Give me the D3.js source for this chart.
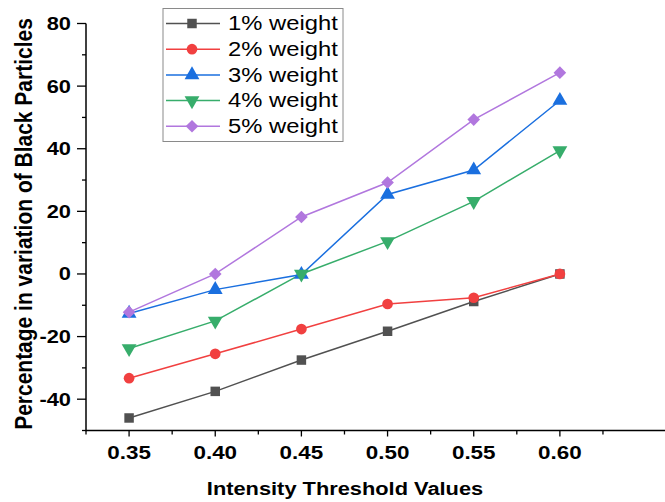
<!DOCTYPE html>
<html>
<head>
<meta charset="utf-8">
<script src="https://cdn.jsdelivr.net/npm/d3@7"></script>
<style>
  body { margin: 0; background: #fff; }
  svg { display: block; font-family: Arial, "Liberation Sans", sans-serif; }
</style>
</head>
<body>
<div id="chart"></div>
<script>
// Intensity threshold vs percentage variation of black particles

const thresholds = [0.35, 0.40, 0.45, 0.50, 0.55, 0.60];
const seriesNames = ['1% weight', '2% weight', '3% weight', '4% weight', '5% weight'];
const w1 = [-46.0, -37.5, -27.5, -18.3, -8.8, 0];
const w2 = [-33.3, -25.5, -17.6, -9.6, -7.6, 0];
const w3 = [-12.6, -5.0, -0.2, 25.4, 33.2, 55.4];
const w4 = [-23.8, -15.0, 0, 10.4, 23.2, 39.4];
const w5 = [-12.2, 0, 18.2, 29.2, 49.3, 64.3];
const xTicks = [0.35, 0.40, 0.45, 0.50, 0.55, 0.60];
const yTicks = [-40, -20, 0, 20, 40, 60, 80];

const colors = ['#515151', '#F14040', '#1A6FDF', '#37AD6B', '#B177DE'];
const symbols = ['square', 'circle', 'up', 'down', 'diamond'];
const stretch = 1.18; // glyphs in the picture are wider than tall

const W = 665, H = 502;
const svg = d3.select('#chart').append('svg')
  .attr('width', W).attr('height', H);

const x = d3.scaleLinear().domain([0.325, 0.661]).range([86, 665]);
const y = d3.scaleLinear().domain([-50, 80]).range([430.5, 23.5]);

// draw a marker shape
function marker(g, sym, color) {
  const p = g.append('path').attr('fill', color);
  if (sym === 'square') p.attr('d', d3.symbol(d3.symbolSquare, 90)());
  if (sym === 'circle') p.attr('d', d3.symbol(d3.symbolCircle, 90)());
  if (sym === 'up') p.attr('d', d3.symbol(d3.symbolTriangle, 95)());
  if (sym === 'down') p.attr('d', d3.symbol(d3.symbolTriangle, 95)()).attr('transform', 'rotate(180)');
  if (sym === 'diamond') p.attr('d', d3.symbol(d3.symbolSquare, 80)()).attr('transform', 'rotate(45)');
}

// text with horizontal stretch around its anchor point
function label(tx, ty, str, opts) {
  const t = svg.append('text')
    .attr('transform', `translate(${tx},${ty}) scale(${stretch},1)` + (opts.rotate ? ` rotate(${opts.rotate})` : ''))
    .attr('text-anchor', opts.anchor || 'start')
    .attr('font-size', opts.size)
    .attr('font-weight', opts.weight || 'normal')
    .attr('fill', '#000')
    .text(str);
  if (opts.dy) t.attr('dy', opts.dy);
  return t;
}

// axes lines
svg.append('line')
  .attr('x1', x.range()[0]).attr('x2', x.range()[1])
  .attr('y1', y(-50)).attr('y2', y(-50))
  .attr('stroke', '#000').attr('stroke-width', 1.5);
svg.append('line')
  .attr('x1', 86).attr('x2', 86)
  .attr('y1', y(-50) + 0.75).attr('y2', y(80))
  .attr('stroke', '#000').attr('stroke-width', 1.5);

// x ticks
const xMinor = [0.325, 0.375, 0.425, 0.475, 0.525, 0.575, 0.625];
xTicks.forEach(v => {
  svg.append('line')
    .attr('x1', x(v)).attr('x2', x(v))
    .attr('y1', y(-50)).attr('y2', y(-50) + 6)
    .attr('stroke', '#000').attr('stroke-width', 1.3);
  label(x(v), 459, v.toFixed(2), { anchor: 'middle', size: 19, weight: 'bold' });
});
xMinor.forEach(v => {
  svg.append('line')
    .attr('x1', x(v)).attr('x2', x(v))
    .attr('y1', y(-50)).attr('y2', y(-50) + 4)
    .attr('stroke', '#000').attr('stroke-width', 1.3);
});

// y ticks
yTicks.forEach(v => {
  svg.append('line')
    .attr('x1', 77).attr('x2', 86)
    .attr('y1', y(v)).attr('y2', y(v))
    .attr('stroke', '#000').attr('stroke-width', 1.3);
  label(71, y(v), String(v), { anchor: 'end', size: 18.5, weight: 'bold', dy: '0.35em' });
});
[-50, -30, -10, 10, 30, 50, 70].forEach(v => {
  svg.append('line')
    .attr('x1', 82).attr('x2', 86)
    .attr('y1', y(v)).attr('y2', y(v))
    .attr('stroke', '#000').attr('stroke-width', 1.3);
});

// axis titles
label(345, 495, 'Intensity Threshold Values', { anchor: 'middle', size: 18.5, weight: 'bold' });
label(31.5, 224, 'Percentage in variation of Black Particles', { anchor: 'middle', size: 21, weight: 'bold', rotate: -90 });

// series
const allSeries = [w1, w2, w3, w4, w5];
const line = d3.line().x((d, i) => x(thresholds[i])).y(d => y(d));

allSeries.forEach((vals, s) => {
  svg.append('path')
    .datum(vals)
    .attr('d', line)
    .attr('fill', 'none')
    .attr('stroke', colors[s])
    .attr('stroke-width', 1.5);
});
allSeries.forEach((vals, s) => {
  vals.forEach((v, i) => {
    const g = svg.append('g').attr('transform', `translate(${x(thresholds[i])},${y(v)})`);
    marker(g, symbols[s], colors[s]);
  });
});

// legend
const legend = svg.append('g');
legend.append('rect')
  .attr('x', 163).attr('y', 8.5)
  .attr('width', 180).attr('height', 133)
  .attr('fill', '#fff')
  .attr('stroke', '#8a8a8a').attr('stroke-width', 1);
seriesNames.forEach((name, s) => {
  const ly = 23.5 + s * 25.7;
  legend.append('line')
    .attr('x1', 166).attr('x2', 220)
    .attr('y1', ly).attr('y2', ly)
    .attr('stroke', colors[s]).attr('stroke-width', 1.5);
  const g = legend.append('g').attr('transform', `translate(192,${ly})`);
  marker(g, symbols[s], colors[s]);
  svg.append('text')
    .attr('transform', `translate(228,${ly}) scale(1.22,1)`)
    .attr('dy', '0.35em')
    .attr('font-size', 19.5)
    .attr('fill', '#000')
    .text(name);
});
</script>
</body>
</html>
